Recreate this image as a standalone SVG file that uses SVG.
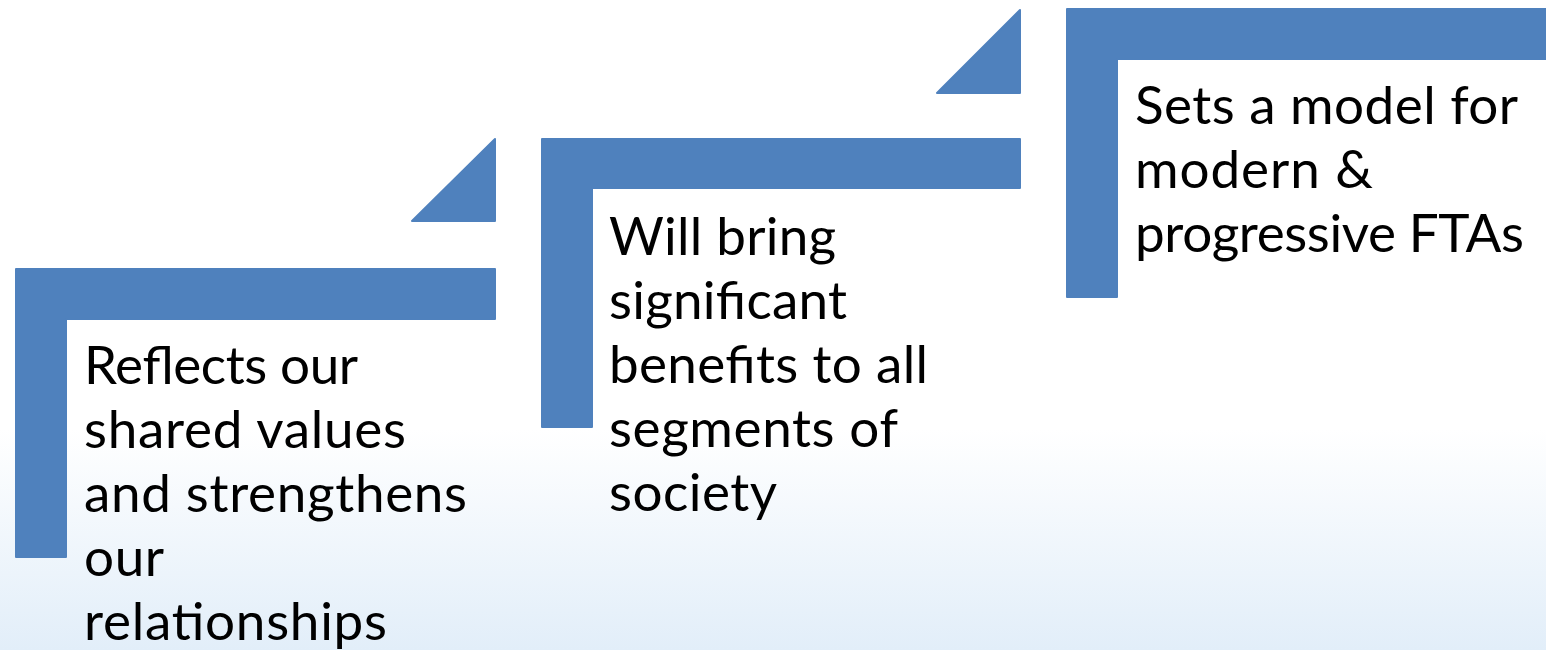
<svg xmlns="http://www.w3.org/2000/svg" width="1546" height="650" viewBox="0 0 1546 650">
<defs>
<linearGradient id="bg" x1="0" y1="0" x2="0" y2="1">
<stop offset="0" stop-color="#ffffff"/>
<stop offset="0.66" stop-color="#ffffff"/>
<stop offset="1" stop-color="#e2eef9"/>
</linearGradient>
</defs>
<style>
.shape{fill:#4f81bd;stroke:#4f81bd;stroke-width:2;stroke-linejoin:round}
.t{font-family:Lato,"Open Sans","Liberation Sans",sans-serif;font-size:53px;fill:#000000}
</style>
<rect x="0" y="0" width="1546" height="650" fill="url(#bg)"/>
<g id="step1">
<polygon class="shape" points="16,269 495,269 495,319 66,319 66,557 16,557"/>
<text class="t" lengthAdjust="spacingAndGlyphs">
<tspan x="84" y="384" textLength="273">Reflects our</tspan>
<tspan x="84" y="448" textLength="322">shared values</tspan>
<tspan x="84" y="512" textLength="383">and strengthens</tspan>
<tspan x="84" y="576" textLength="79">our</tspan>
<tspan x="84" y="640" textLength="303">relationships</tspan>
</text>
</g>
<g id="arrow1">
<polygon class="shape" points="412,221 495,139 495,221"/>
</g>
<g id="step2">
<polygon class="shape" points="542,139 1020,139 1020,188 592,188 592,427 542,427"/>
<text class="t">
<tspan x="609" y="255" textLength="227">Will bring</tspan>
<tspan x="609" y="319" textLength="238">significant</tspan>
<tspan x="609" y="383" textLength="319">benefits to all</tspan>
<tspan x="609" y="447" textLength="288">segments of</tspan>
<tspan x="609" y="511" textLength="168">society</tspan>
</text>
</g>
<g id="arrow2">
<polygon class="shape" points="937,93 1020,10 1020,93"/>
</g>
<g id="step3">
<polygon class="shape" points="1067,9 1547,9 1547,59 1117,59 1117,297 1067,297"/>
<text class="t">
<tspan x="1135" y="124" textLength="382">Sets a model for</tspan>
<tspan x="1135" y="188" textLength="238">modern &amp;</tspan>
<tspan x="1135" y="252" textLength="389">progressive FTAs</tspan>
</text>
</g>
<g id="connectors"></g>
</svg>
